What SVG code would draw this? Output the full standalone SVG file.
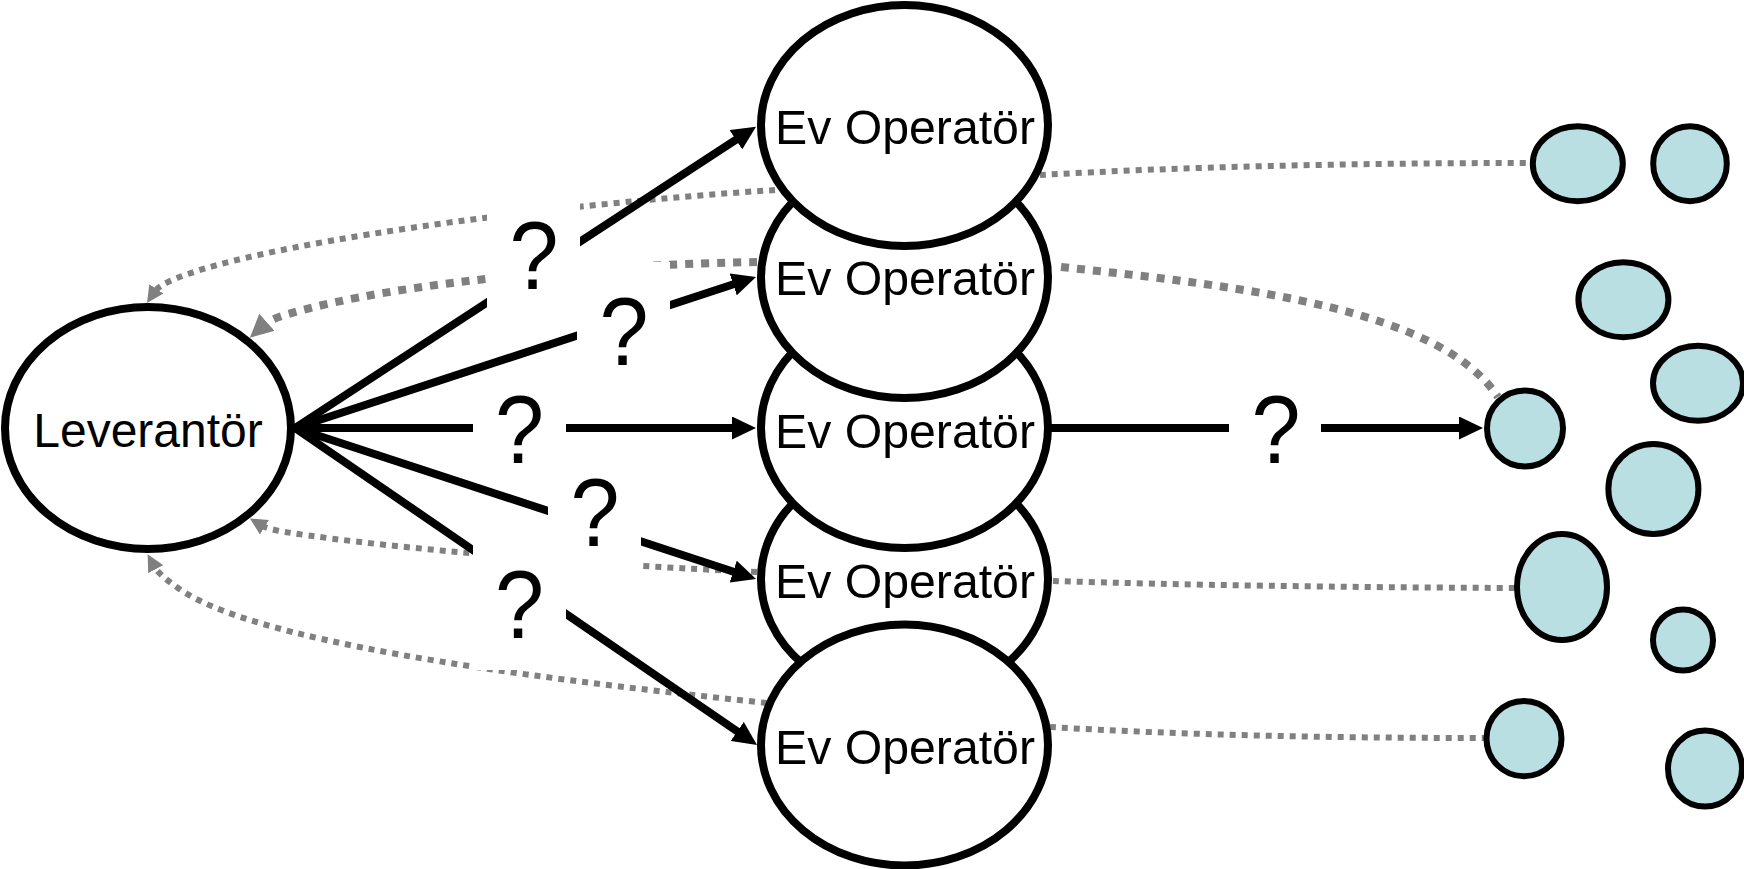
<svg xmlns="http://www.w3.org/2000/svg" width="1744" height="869" viewBox="0 0 1744 869">
<style>
text{font-family:"Liberation Sans",Arial,sans-serif;fill:#000;text-anchor:middle}
.lbl{font-size:48px}
.q{font-size:96px}
.big{fill:#fff;stroke:#000;stroke-width:8}
.small{fill:#b9dfe2;stroke:#000;stroke-width:6}
.arrow{fill:none;stroke:#000;stroke-width:8;marker-end:url(#ah)}
.dot{fill:none;stroke:#808080;stroke-width:6;stroke-dasharray:6 6}
.dotb{fill:none;stroke:#808080;stroke-width:8;stroke-dasharray:8 8}
.mask{fill:#fff;stroke:none}
</style>
<defs>
<marker id="ah" markerUnits="userSpaceOnUse" markerWidth="24" markerHeight="23" refX="2" refY="11.500" orient="auto"><path d="M0 0L24 11.500L0 23Z" fill="#000"/></marker>
<marker id="gt" markerUnits="userSpaceOnUse" markerWidth="17" markerHeight="17" refX="4" refY="8.500" orient="auto"><path d="M0 0L17 8.500L0 17Z" fill="#808080"/></marker>
<marker id="gb" markerUnits="userSpaceOnUse" markerWidth="23" markerHeight="23" refX="4" refY="11.500" orient="auto"><path d="M0 0L23 11.500L0 23Z" fill="#808080"/></marker>
</defs>
<g id="connectors">
<path class="dot" marker-end="url(#gt)" d="M775 190C540 205 245 245 168 282Q157.500 287.200 154.200 292.200"/>
<path class="dotb" marker-end="url(#gb)" d="M757 262C620 264 400 280 285 315Q270 319.600 264 325"/>
<path class="dot" marker-end="url(#gt)" d="M757 572C600 565 400 550 285 532Q267 528.900 261 525.200"/>
<path class="dot" marker-end="url(#gt)" d="M767 703C500 675 250 640 178 588Q158.500 574.500 153.800 565.700"/>
<path class="dot" d="M1040 175C1180 167 1350 163 1530 163"/>
<path class="dotb" d="M1061 267C1250 287 1440 310 1498 397"/>
<path class="dot" d="M1053 581Q1250 587 1516 588"/>
<path class="dot" d="M1050 727C1180 735 1330 738 1486 738"/>
<path class="arrow" d="M295 428L737.600 138.700"/>
<path class="arrow" d="M295 428L735.100 283.800"/>
<path class="arrow" d="M295 428L734 428"/>
<path class="arrow" d="M295 428L735.100 572.200"/>
<path class="arrow" d="M295 428L738.900 732.500"/>
<path class="arrow" d="M1051 428L1461 428"/>
</g>
<g id="q1"><rect class="mask" x="487" y="186" width="93" height="135"/><text class="q" x="534" y="289" textLength="49" lengthAdjust="spacingAndGlyphs">?</text></g>
<g id="q2"><rect class="mask" x="577" y="262" width="93" height="135"/><text class="q" x="624" y="365" textLength="49" lengthAdjust="spacingAndGlyphs">?</text></g>
<g id="q3"><rect class="mask" x="473" y="382" width="93" height="98"/><text class="q" x="519.500" y="463" textLength="49" lengthAdjust="spacingAndGlyphs">?</text></g>
<g id="q4"><rect class="mask" x="548" y="443" width="93" height="135"/><text class="q" x="595" y="546" textLength="49" lengthAdjust="spacingAndGlyphs">?</text></g>
<g id="q5"><rect class="mask" x="473" y="535" width="93" height="135"/><text class="q" x="519.500" y="638" textLength="49" lengthAdjust="spacingAndGlyphs">?</text></g>
<g id="q6"><rect class="mask" x="1229" y="395" width="92" height="80"/><text class="q" x="1276" y="463" textLength="49" lengthAdjust="spacingAndGlyphs">?</text></g>
<g id="supplier"><ellipse class="big" cx="148" cy="428" rx="143" ry="121"/><text class="lbl" x="148" y="447">Leverantör</text></g>
<g id="op4"><ellipse class="big" cx="904.500" cy="579" rx="143.500" ry="120.500"/><text class="lbl" x="905" y="597.500" textLength="260" lengthAdjust="spacingAndGlyphs">Ev Operatör</text></g>
<g id="op5"><ellipse class="big" cx="904.500" cy="745" rx="143.500" ry="120.500"/><text class="lbl" x="905" y="764" textLength="260" lengthAdjust="spacingAndGlyphs">Ev Operatör</text></g>
<g id="op3"><ellipse class="big" cx="904.500" cy="427.500" rx="143.500" ry="120.500"/><text class="lbl" x="905" y="447.500" textLength="260" lengthAdjust="spacingAndGlyphs">Ev Operatör</text></g>
<g id="op2"><ellipse class="big" cx="904.500" cy="277.500" rx="143.500" ry="120.500"/><text class="lbl" x="905" y="295" textLength="260" lengthAdjust="spacingAndGlyphs">Ev Operatör</text></g>
<g id="op1"><ellipse class="big" cx="904.500" cy="125.500" rx="143.500" ry="120.500"/><text class="lbl" x="905" y="143.500" textLength="260" lengthAdjust="spacingAndGlyphs">Ev Operatör</text></g>
<g id="c1"><ellipse class="small" cx="1577.800" cy="163.700" rx="45" ry="37.500"/></g>
<g id="c2"><ellipse class="small" cx="1690" cy="163.700" rx="36.800" ry="37.500"/></g>
<g id="c3"><ellipse class="small" cx="1623.400" cy="299.700" rx="45" ry="37.500"/></g>
<g id="c4"><ellipse class="small" cx="1698" cy="383.300" rx="45" ry="37.500"/></g>
<g id="c5"><ellipse class="small" cx="1525" cy="428.600" rx="38" ry="38"/></g>
<g id="c6"><ellipse class="small" cx="1653.400" cy="489" rx="45" ry="45"/></g>
<g id="c7"><ellipse class="small" cx="1562" cy="587" rx="45" ry="53"/></g>
<g id="c8"><ellipse class="small" cx="1683" cy="640" rx="30" ry="30.500"/></g>
<g id="c9"><ellipse class="small" cx="1524" cy="738.600" rx="37.500" ry="37.700"/></g>
<g id="c10"><ellipse class="small" cx="1705" cy="768.600" rx="37" ry="38"/></g>
</svg>
